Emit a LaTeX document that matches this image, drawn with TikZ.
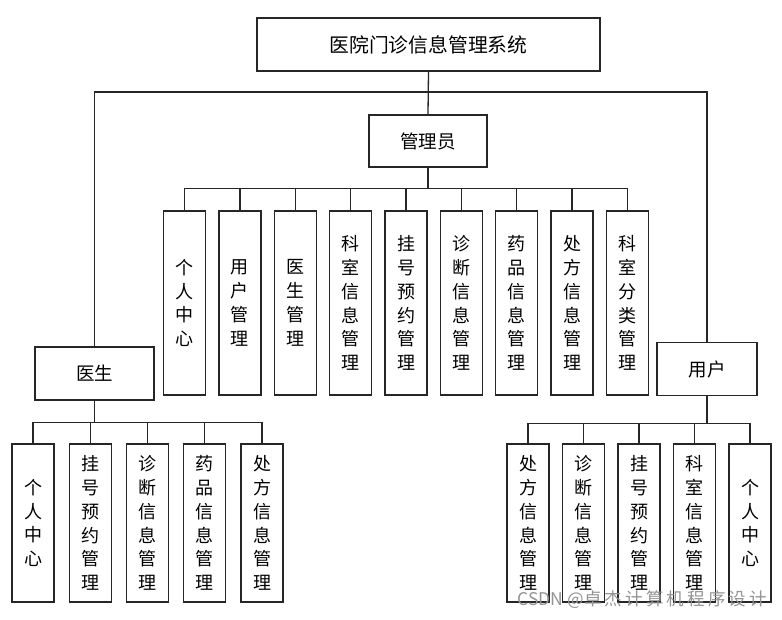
\documentclass[tikz,border=0pt]{standalone}
\usepackage{fontspec}
\newfontfamily\cjk{Noto Sans CJK SC}
\tikzset{
  x=1pt, y=-1pt,
  box/.style={draw=black!85, line width=1.3pt, fill=white, inner sep=0pt, font=\cjk\fontsize{18.5}{24}\selectfont},
  vbox/.style={box, minimum width=42pt, align=center, font=\cjk\fontsize{18}{23.8}\selectfont},
  link/.style={draw=black!85, line width=1.3pt},
  wmark/.style={font=\cjk\fontsize{17.5}{20}\selectfont, text=black!42, inner sep=0pt}
}
\begin{document}
\begin{tikzpicture}
\useasboundingbox (0,0) rectangle (782,619);
\fill[white] (0,0) rectangle (782,619);

% main boxes
\node[box, minimum width=343pt, minimum height=53pt, font=\cjk\fontsize{19.8}{24}\selectfont] (sys) at (428.5,44.5) {医院门诊信息管理系统};
\node[box, minimum width=118pt, minimum height=52pt] (adm) at (428,141) {管理员};
\node[box, minimum width=119pt, minimum height=53pt] (doc) at (94.5,373.5) {医生};
\node[box, minimum width=100pt, minimum height=53pt] (usr) at (707,369) {用户};

% top connectors
\coordinate (tb) at (428,92);
\draw[link] (sys.south) -- (adm.north);
\draw[link] (doc.north) |- (tb) -| (usr.north);

% admin children
\foreach \t [count=\i from 0] in {个\\人\\中\\心, 用\\户\\管\\理, 医\\生\\管\\理, 科\\室\\信\\息\\管\\理, 挂\\号\\预\\约\\管\\理, 诊\\断\\信\\息\\管\\理, 药\\品\\信\\息\\管\\理, 处\\方\\信\\息\\管\\理, 科\\室\\分\\类\\管\\理}{
  \node[vbox, minimum height=184pt] (a\i) at ({184.5+55.375*\i},303) {\t};
  \draw[link] (adm.south) -- ++(0,21) -| (a\i.north);
}

% doctor children
\foreach \t [count=\i from 0] in {个\\人\\中\\心, 挂\\号\\预\\约\\管\\理, 诊\\断\\信\\息\\管\\理, 药\\品\\信\\息\\管\\理, 处\\方\\信\\息\\管\\理}{
  \node[vbox, minimum height=158pt] (d\i) at ({33+57.25*\i},523) {\t};
  \draw[link] (doc.south) -- ++(0,22) -| (d\i.north);
}

% user children
\foreach \t [count=\i from 0] in {处\\方\\信\\息\\管\\理, 诊\\断\\信\\息\\管\\理, 挂\\号\\预\\约\\管\\理, 科\\室\\信\\息\\管\\理, 个\\人\\中\\心}{
  \node[vbox, minimum height=158pt] (u\i) at ({528+55.5*\i},523) {\t};
  \draw[link] (usr.south) -- ++(0,27.5) -| (u\i.north);
}

% watermark
\node[wmark, anchor=east] (wm) at (767,600) {CSDN @\addfontfeature{LetterSpace=18}卓杰计算机程序设计};
\end{tikzpicture}
\end{document}
